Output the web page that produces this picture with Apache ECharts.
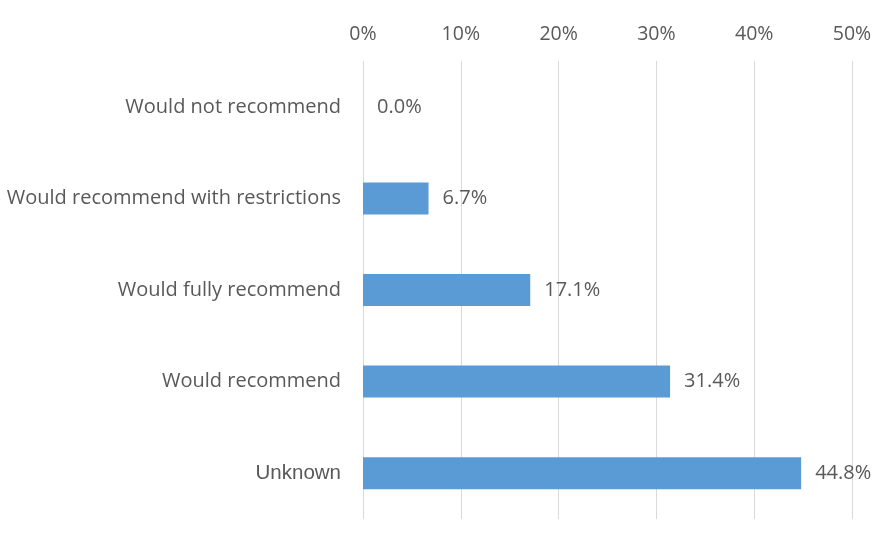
<!DOCTYPE html>
<html>
<head>
<meta charset="utf-8">
<script src="https://cdn.jsdelivr.net/npm/echarts@6/dist/echarts.min.js"></script>
<style>
  html, body { margin: 0; padding: 0; background: #fff; }
  #chart { width: 878px; height: 534px; }
</style>
</head>
<body>
<div id="chart"></div>
<script>
// categories, top to bottom
var categories = ['Would not recommend', 'Would recommend with restrictions', 'Would fully recommend', 'Would recommend', 'Unknown']
var values = [0.0, 6.7, 17.1, 31.4, 44.8]
var tickLabels = ['0%', '10%', '20%', '30%', '40%', '50%']

var chart = echarts.init(document.getElementById('chart'))

var option = {
  backgroundColor: '#fff',
  animation: false,
  textStyle: { fontFamily: '"Open Sans", sans-serif' },
  grid: { left: 363, right: 26, top: 61, bottom: 15 },
  xAxis: {
    type: 'value',
    position: 'top',
    min: 0,
    max: 50,
    interval: 10,
    axisLine: { show: false },
    axisTick: { show: false },
    axisLabel: {
      color: '#595959',
      fontSize: 19.5,
      margin: 17,
      formatter: function (v) { return tickLabels[Math.round(v / 10)] }
    },
    splitLine: { lineStyle: { color: '#d9d9d9', width: 1 } }
  },
  yAxis: {
    type: 'category',
    inverse: true,
    data: categories,
    axisLine: { show: false },
    axisTick: { show: false },
    axisLabel: {
      color: '#595959',
      fontSize: 20,
      margin: 22,
      // the last label is set in a different face in the original
      formatter: function (v) { return v === 'Unknown' ? '{u|' + v + '}' : v },
      rich: { u: { fontFamily: '"Liberation Sans", Arial, sans-serif', fontSize: 20.5, color: '#595959' } }
    }
  },
  series: [{
    type: 'bar',
    data: values,
    barWidth: 32,
    itemStyle: { color: '#5b9bd5' },
    label: {
      show: true,
      position: 'right',
      distance: 14,
      color: '#595959',
      fontSize: 20,
      formatter: function (p) { return p.value.toFixed(1) + '%' }
    }
  }]
}

chart.setOption(option)
</script>
</body>
</html>
